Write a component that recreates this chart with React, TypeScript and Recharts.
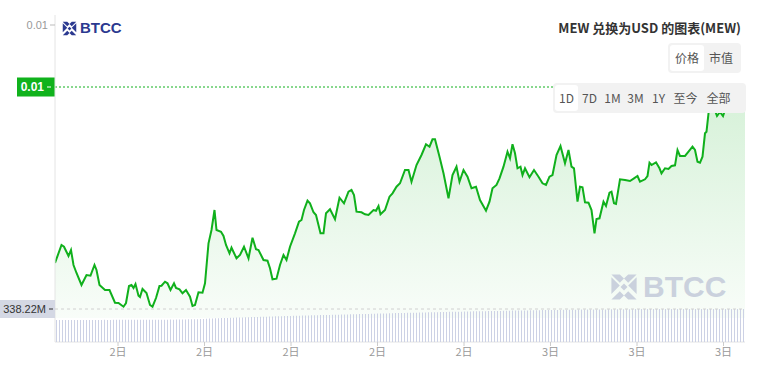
import React from 'react';
import { AreaChart, Area, XAxis, YAxis, ReferenceLine, BarChart, Bar } from 'recharts';

// time offset in minutes from the first sample
const times = [
  0, 13, 18, 27, 32, 37, 43, 53, 63, 71, 79, 83, 89, 100, 109, 120, 127, 137, 142, 148,
  153, 157, 161, 167, 170, 175, 183, 190, 195, 202, 209, 213, 220, 225, 231, 238, 242, 249, 255, 262,
  270, 275, 280, 287, 295, 300, 307, 313, 319, 323, 332, 337, 342, 349, 353, 363, 370, 378, 387, 395,
  402, 407, 417, 425, 430, 435, 443, 450, 457, 463, 470, 480, 488, 493, 498, 505, 510, 517, 522, 531,
  537, 542, 550, 560, 569, 578, 587, 593, 598, 603, 613, 620, 627, 637, 642, 647, 651, 660, 669, 675,
  683, 690, 700, 707, 713, 723, 733, 742, 749, 755, 760, 769, 777, 787, 795, 803, 809, 817, 825, 833,
  842, 850, 862, 869, 875, 883, 889, 897, 905, 910, 915, 920, 925, 931, 935, 940, 949, 958, 967, 975,
  982, 989, 995, 1003, 1011, 1020, 1027, 1033, 1038, 1045, 1050, 1055, 1060, 1067, 1073, 1079, 1083, 1089, 1097, 1102,
  1109, 1113, 1118, 1122, 1130, 1140, 1150, 1158, 1165, 1170, 1180, 1185, 1189, 1193, 1202, 1209, 1213, 1220, 1227, 1233,
  1240, 1245, 1250, 1260, 1267, 1275, 1280, 1285, 1290, 1295, 1300, 1303, 1307, 1312, 1318, 1324, 1330, 1336, 1344, 1352,
  1360, 1366, 1372, 1380,
];

// MEW price in USD
const prices = [
  0.008245, 0.008425, 0.008408, 0.008315, 0.008375, 0.008225, 0.008145, 0.008025, 0.008125, 0.008118,
  0.008225, 0.008175, 0.008025, 0.007975, 0.007975, 0.007848, 0.007845, 0.007808, 0.007845, 0.008015,
  0.008025, 0.007995, 0.008035, 0.007918, 0.007905, 0.007985, 0.007945, 0.007825, 0.007808, 0.007895,
  0.008015, 0.008018, 0.008058, 0.008042, 0.007975, 0.008042, 0.007995, 0.007982, 0.007942, 0.007975,
  0.007908, 0.007815, 0.007825, 0.007952, 0.007948, 0.008042, 0.008442, 0.008575, 0.008775, 0.008575,
  0.008558, 0.008515, 0.008425, 0.008342, 0.008398, 0.008292, 0.008325, 0.008408, 0.008292, 0.008498,
  0.008382, 0.008375, 0.008275, 0.008268, 0.008192, 0.008082, 0.008088, 0.008225, 0.008325, 0.008275,
  0.008408, 0.008542, 0.008658, 0.008675, 0.008775, 0.008868, 0.008842, 0.008752, 0.008725, 0.008542,
  0.008542, 0.008742, 0.008782, 0.008682, 0.008898, 0.008842, 0.008958, 0.008975, 0.008925, 0.008758,
  0.008752, 0.008732, 0.008725, 0.008775, 0.008768, 0.008815, 0.008732, 0.008775, 0.008908, 0.008942,
  0.009008, 0.009042, 0.009175, 0.009175, 0.009058, 0.009225, 0.009325, 0.009432, 0.009408, 0.009482,
  0.009482, 0.009308, 0.009142, 0.008892, 0.009125, 0.009208, 0.009058, 0.009175, 0.009108, 0.008992,
  0.009008, 0.008875, 0.008768, 0.008858, 0.008992, 0.009025, 0.009092, 0.009208, 0.009358, 0.009292,
  0.009432, 0.009342, 0.009192, 0.009208, 0.009125, 0.009192, 0.009102, 0.009175, 0.009108, 0.009042,
  0.009025, 0.009108, 0.009125, 0.009325, 0.009415, 0.009242, 0.009375, 0.009208, 0.009192, 0.008858,
  0.009008, 0.009002, 0.008852, 0.008848, 0.008775, 0.008542, 0.008685, 0.008692, 0.008858, 0.008815,
  0.008948, 0.008958, 0.008842, 0.008835, 0.009082, 0.009075, 0.009065, 0.009092, 0.009115, 0.009058,
  0.009082, 0.009115, 0.009248, 0.009225, 0.009252, 0.009192, 0.009142, 0.009192, 0.009185, 0.009215,
  0.009222, 0.009375, 0.009315, 0.009315, 0.009358, 0.009408, 0.009375, 0.009258, 0.009248, 0.009308,
  0.009542, 0.009558, 0.009742, 0.009845, 0.009795, 0.009715, 0.009755, 0.009715, 0.009835, 0.009875,
  0.009925, 0.009935, 0.010025, 0.010005,
];

// trading volume in millions USD
const volumes = [
  225, 225, 226, 225, 225, 226, 225, 225, 226, 226,
  226, 226, 225, 226, 226, 226, 227, 226, 226, 227,
  227, 227, 227, 227, 228, 227, 227, 228, 228, 228,
  228, 228, 229, 228, 229, 229, 229, 229, 230, 229,
  230, 230, 231, 231, 232, 233, 233, 234, 235, 236,
  238, 240, 242, 243, 244, 245, 246, 247, 248, 249,
  250, 251, 252, 253, 254, 255, 256, 257, 258, 259,
  260, 261, 262, 263, 264, 265, 266, 266, 267, 268,
  269, 270, 271, 272, 272, 273, 274, 275, 276, 276,
  277, 278, 279, 280, 280, 281, 282, 283, 284, 284,
  285, 286, 287, 288, 288, 289, 290, 291, 292, 292,
  293, 294, 295, 296, 296, 297, 298, 299, 300, 300,
  301, 302, 302, 303, 304, 305, 305, 306, 307, 307,
  308, 309, 309, 310, 311, 311, 312, 313, 313, 314,
  315, 315, 316, 316, 317, 318, 318, 319, 319, 320,
  320, 321, 322, 322, 323, 323, 324, 324, 325, 325,
  326, 326, 327, 327, 328, 328, 329, 329, 329, 330,
  330, 331, 331, 331, 332, 332, 332, 333, 333, 333,
  334, 334, 334, 334, 335, 335, 335, 335, 336, 336,
  336, 336, 336, 337, 337, 337, 337, 337, 337, 337,
  337, 338, 338, 338, 338, 338, 338, 338, 338, 338,
  338, 338, 338, 338, 338, 338, 338, 338, 338, 338,
  338, 338, 338, 338, 338, 338, 338, 338, 338, 338.22,
];

const xTicks = [126, 299, 472, 645, 818, 991, 1164, 1337];
const xTickLabels = ['2日', '2日', '2日', '2日', '2日', '3日', '3日', '3日'];
const priceTicks = [0.010625];
const volumeRefValue = 338.22;
const volumeRefLabel = '338.22M';
const titleText = 'MEW 兑换为USD 的图表(MEW)';
const modeButtons = ['价格', '市值'];
const rangeButtons = ['1D', '7D', '1M', '3M', '1Y', '至今', '全部'];
const brandText = 'BTCC';
const watermarkText = 'BTCC Exchange Proprietary';

const priceData = times.map((t, i) => ({ t, price: prices[i] }));
const volumeData = volumes.map((v, i) => ({ i, vol: v }));
const lastPrice = prices[prices.length - 1];

const GREEN = '#10b01c';
const FONT = '"Liberation Sans", "Noto Sans CJK SC", sans-serif';
const CJK = '"Noto Sans CJK SC", "Liberation Sans", sans-serif';

const PriceTag = (props: any) => {
  const vb = props.viewBox;
  if (!vb) return null;
  const y = vb.y + (vb.height || 0) / 2;
  const x = vb.x;
  return (
    <g>
      <rect x={x - 38} y={y - 9.5} width={38} height={19} fill="#10b21c" />
      <line x1={x - 8} x2={x - 4} y1={y} y2={y} stroke="#fff" strokeWidth={1} />
      <text x={x - 11} y={y} dy="0.36em" textAnchor="end" fill="#fff" fontSize={12} fontWeight={700} fontFamily={FONT}>
        {lastPrice.toFixed(2)}
      </text>
    </g>
  );
};

const VolTag = (props: any) => {
  const vb = props.viewBox;
  if (!vb) return null;
  const y = vb.y + (vb.height || 0) / 2;
  const x = vb.x;
  return (
    <g>
      <rect x={x - 55} y={y - 9} width={55} height={18} fill="#d4d8e4" />
      <line x1={x - 6} x2={x - 2} y1={y} y2={y} stroke="#333" strokeWidth={1} />
      <text x={x - 9} y={y} dy="0.36em" textAnchor="end" fill="#333" fontSize={11} fontFamily={FONT}>
        {volumeRefLabel}
      </text>
    </g>
  );
};

const BrandIcon = ({ size, color }: { size: number; color: string }) => (
  <svg width={size} height={size} viewBox="0 0 20 20" style={{ display: 'block' }}>
    <path d="M1 1 L7 1 L10 4 L13 1 L19 1 L13 7 L10 4 L7 7 Z" fill={color} />
    <path d="M1 19 L7 19 L10 16 L13 19 L19 19 L13 13 L10 16 L7 13 Z" fill={color} />
    <path d="M1 3 L7 9 L4 12 L1 15 Z" fill={color} />
    <path d="M19 3 L13 9 L16 12 L19 15 Z" fill={color} />
    <path d="M10 7.5 L12.5 10 L10 12.5 L7.5 10 Z" fill={color} />
  </svg>
);

export default function App() {
  return (
    <div style={{ position: 'absolute', left: 0, top: 0, width: 759, height: 373, background: '#fff', fontFamily: FONT, overflow: 'hidden' }}>
      <div style={{ position: 'absolute', left: 0, top: 0 }}>
        <AreaChart width={759} height={373} data={priceData} margin={{ top: 15, right: 14, bottom: 0, left: 0 }}>
          <defs>
            <linearGradient id="priceFill" x1="0" y1="0" x2="0" y2="1">
              <stop offset="0%" stopColor="#22b52e" stopOpacity={0.32} />
              <stop offset="100%" stopColor="#22b52e" stopOpacity={0.05} />
            </linearGradient>
          </defs>
          <text x={275} y={183} fontSize={22} fill="#000" fillOpacity={0.025} fontFamily={FONT}>
            {watermarkText}
          </text>
          <XAxis
            dataKey="t"
            type="number"
            domain={[0, 1380]}
            ticks={xTicks}
            interval={0}
            tickFormatter={(v: number) => xTickLabels[xTicks.indexOf(v)]}
            height={31}
            axisLine={{ stroke: '#e4e4e4' }}
            tickLine={{ stroke: '#cccccc' }}
            tickSize={4}
            tick={{ fill: '#999', fontSize: 11, fontFamily: CJK }}
            allowDataOverflow
          />
          <YAxis
            domain={[0.007455, 0.010725]}
            ticks={priceTicks}
            width={55}
            tickFormatter={(v: number) => v.toFixed(2)}
            axisLine={{ stroke: '#e4e4e4' }}
            tickLine={{ stroke: '#bbbbbb' }}
            tickSize={5}
            tick={{ fill: '#999', fontSize: 11 }}
            allowDataOverflow
          />
          <Area
            type="linear"
            dataKey="price"
            stroke={GREEN}
            strokeWidth={2}
            fill="url(#priceFill)"
            baseValue={0.007695}
            dot={false}
            activeDot={false}
            isAnimationActive={false}
          />
          <ReferenceLine y={lastPrice} stroke={GREEN} strokeDasharray="2 2" label={<PriceTag />} />
        </AreaChart>
      </div>
      <div style={{ position: 'absolute', left: 0, top: 0 }}>
        <BarChart width={759} height={373} data={volumeData} margin={{ top: 309, right: 14, bottom: 31, left: 55 }} barCategoryGap={0}>
          <XAxis dataKey="i" hide />
          <YAxis hide domain={[0, volumeRefValue]} allowDataOverflow />
          <Bar dataKey="vol" fill="#ccd1e5" barSize={1} isAnimationActive={false} />
          <ReferenceLine y={volumeRefValue} stroke="#d0d0d0" strokeDasharray="3 3" label={<VolTag />} />
        </BarChart>
      </div>

      {/* top-left brand */}
      <div style={{ position: 'absolute', left: 62, top: 20, display: 'flex', alignItems: 'center' }}>
        <BrandIcon size={15} color="#2b3990" />
        <span style={{ marginLeft: 3, fontSize: 15, fontWeight: 700, color: '#2b3990', fontFamily: FONT, lineHeight: '16px' }}>{brandText}</span>
      </div>

      {/* bottom-right watermark */}
      <div style={{ position: 'absolute', left: 610, top: 272, display: 'flex', alignItems: 'center' }}>
        <BrandIcon size={28} color="#cad1dd" />
        <span style={{ marginLeft: 5, fontSize: 30, fontWeight: 700, color: '#cad1dd', fontFamily: FONT, lineHeight: '30px' }}>{brandText}</span>
      </div>

      {/* title */}
      <div style={{ position: 'absolute', right: 18, top: 19, fontSize: 13, fontWeight: 700, color: '#333', fontFamily: CJK, lineHeight: '18px', whiteSpace: 'nowrap' }}>
        {titleText}
      </div>

      {/* mode buttons */}
      <div style={{ position: 'absolute', left: 668, top: 43, width: 73, height: 30, background: '#f2f2f2', borderRadius: 4, display: 'flex', alignItems: 'center', padding: '0 2px', boxSizing: 'border-box' }}>
        {modeButtons.map((b, i) => (
          <div key={b} style={{ width: 34, height: 26, lineHeight: '26px', textAlign: 'center', fontSize: 12, color: '#555', fontFamily: CJK, background: i === 0 ? '#fff' : 'transparent', borderRadius: 3 }}>
            {b}
          </div>
        ))}
      </div>

      {/* range buttons */}
      <div style={{ position: 'absolute', left: 553, top: 83, width: 193, height: 30, background: '#f2f2f2', borderRadius: 4, display: 'flex', alignItems: 'center', padding: '0 2px', boxSizing: 'border-box' }}>
        {rangeButtons.map((b, i) => (
          <div key={b} style={{ width: i >= 5 ? (i === 6 ? 35 : 31) : 23, height: 26, lineHeight: '26px', textAlign: 'center', fontSize: 12, color: '#555', fontFamily: CJK, background: i === 0 ? '#fff' : 'transparent', borderRadius: 3 }}>
            {b}
          </div>
        ))}
      </div>
    </div>
  );
}
